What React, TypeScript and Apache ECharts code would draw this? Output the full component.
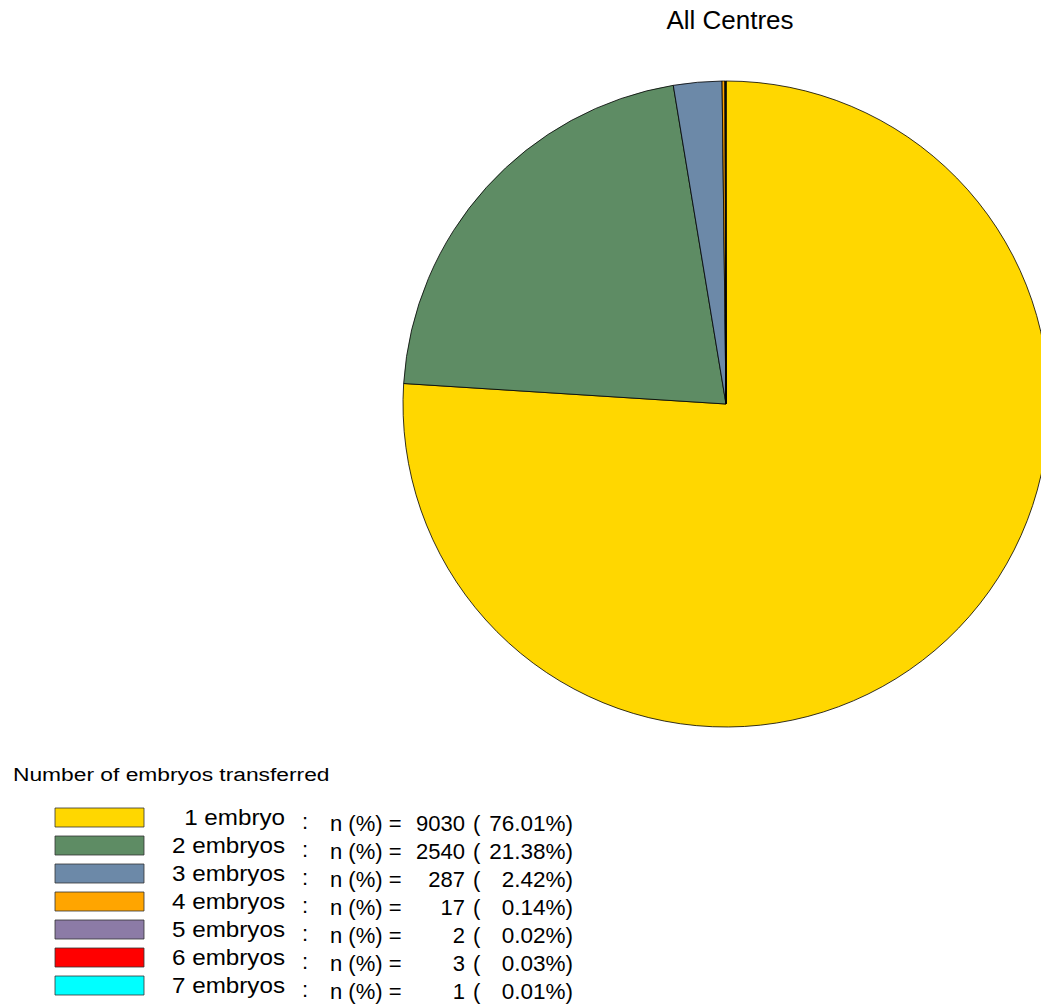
import React, { useEffect, useRef } from "react";
import * as echarts from "echarts";

const categories = ["1 embryo", "2 embryos", "3 embryos", "4 embryos", "5 embryos", "6 embryos", "7 embryos"];
const counts = [9030, 2540, 287, 17, 2, 3, 1];
const colors = ["#FFD700", "#5E8C64", "#6C89A8", "#FFA500", "#8C7BA6", "#FF0000", "#00FFFF"];
const title = "All Centres";
const legendTitle = "Number of embryos transferred";

const FONT = "'Liberation Sans', Arial, sans-serif";

export default function App() {
  const ref = useRef<HTMLDivElement>(null);
  useEffect(() => {
    document.body.style.margin = "0";
    const chart = echarts.init(ref.current!, null, { renderer: "svg" });
    const total = counts.reduce((a, b) => a + b, 0);
    const graphics: any[] = [];
    const txt = (x: number, y: number, text: string, align: string, size: number, sx = 1) => ({
      type: "text",
      x,
      y,
      scaleX: sx,
      style: { text, fontFamily: FONT, fontSize: size, fill: "#000", align, verticalAlign: "middle" },
    });
    graphics.push(txt(730, 20, title, "center", 26));
    graphics.push(txt(13, 774, legendTitle, "left", 19, 1.2));
    categories.forEach((c, i) => {
      const cy = 817.5 + 28 * i;
      const pct = ((counts[i] / total) * 100).toFixed(2) + "%)";
      graphics.push({
        type: "rect",
        shape: { x: 55, y: cy - 9.5, width: 89, height: 19 },
        style: { fill: colors[i], stroke: "#333", lineWidth: 0.8 },
      });
      graphics.push(txt(285, cy, c, "right", 22, 1.1));
      graphics.push(txt(305, cy + 4, ":", "center", 22));
      graphics.push(txt(330, cy + 5.5, "n (%) =", "left", 22));
      graphics.push(txt(465, cy + 5.5, String(counts[i]), "right", 22));
      graphics.push(txt(473, cy + 5.5, "(", "left", 22));
      graphics.push(txt(573, cy + 5.5, pct, "right", 22.5));
    });
    chart.setOption({
      animation: false,
      series: [
        {
          type: "pie",
          center: [726, 404],
          radius: 323,
          startAngle: 90,
          clockwise: true,
          minAngle: 0,
          label: { show: false },
          labelLine: { show: false },
          emphasis: { disabled: true },
          itemStyle: { borderColor: "#000", borderWidth: 0.8 },
          data: categories.map((c, i) => ({ name: c, value: counts[i], itemStyle: { color: colors[i] } })),
        },
      ],
      graphic: graphics,
    });
    return () => chart.dispose();
  }, []);
  return <div ref={ref} style={{ width: 1041, height: 1005 }} />;
}
